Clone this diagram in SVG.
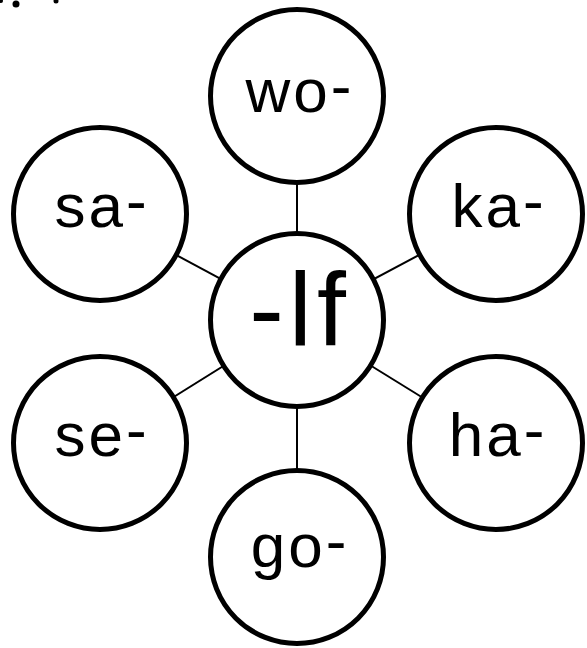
<svg xmlns="http://www.w3.org/2000/svg" width="587" height="648" viewBox="0 0 587 648">
<style>
.node circle{fill:#fff;stroke:#000;stroke-width:5}
.lbl{font-family:"Liberation Sans",Arial,sans-serif;font-size:62px;fill:#000;text-anchor:middle;letter-spacing:3px}
.big{font-size:104px;letter-spacing:5px}
.conn line{stroke:#000;stroke-width:2}
.dot{fill:#000}
</style>
<rect width="587" height="648" fill="#fff"/>
<circle class="dot" cx="16" cy="4" r="3.5"/>
<circle class="dot" cx="56" cy="1" r="2.5"/>
<circle class="dot" cx="1" cy="1" r="2"/>
<g id="connectors" class="conn">
<line x1="297" y1="320" x2="297" y2="96"/>
<line x1="297" y1="320" x2="297" y2="557"/>
<line x1="297" y1="320" x2="100" y2="214"/>
<line x1="297" y1="320" x2="496" y2="214"/>
<line x1="297" y1="320" x2="100" y2="443"/>
<line x1="297" y1="320" x2="496" y2="443"/>
</g>
<g id="node-lf" class="node"><circle cx="297" cy="320" r="86.5"/><text class="lbl big" x="300" y="345">-lf</text></g>
<g id="node-wo" class="node"><circle cx="297" cy="96" r="86.5"/><text class="lbl" x="300" y="112">wo<tspan dy="-5">-</tspan></text></g>
<g id="node-sa" class="node"><circle cx="100" cy="214" r="86.5"/><text class="lbl" x="102" y="227">sa<tspan dy="-5">-</tspan></text></g>
<g id="node-ka" class="node"><circle cx="496" cy="214" r="86.5"/><text class="lbl" x="499" y="227">ka<tspan dy="-5">-</tspan></text></g>
<g id="node-se" class="node"><circle cx="100" cy="443" r="86.5"/><text class="lbl" x="102" y="456">se<tspan dy="-5">-</tspan></text></g>
<g id="node-ha" class="node"><circle cx="496" cy="443" r="86.5"/><text class="lbl" x="498" y="456">ha<tspan dy="-5">-</tspan></text></g>
<g id="node-go" class="node"><circle cx="297" cy="557" r="86.5"/><text class="lbl" x="300" y="567">go<tspan dy="-5">-</tspan></text></g>
</svg>
